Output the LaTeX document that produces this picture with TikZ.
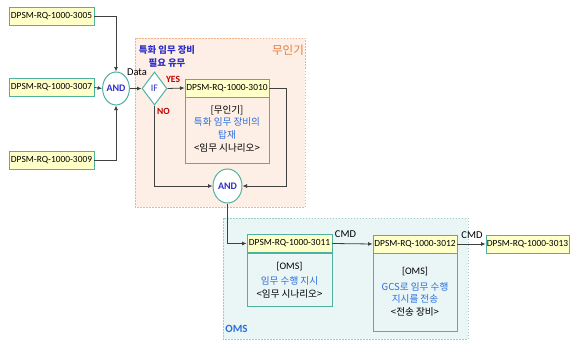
\documentclass[tikz,border=0pt]{standalone}
\usepackage{fontspec}
\setmainfont{Carlito}
\newfontfamily\kr{Noto Sans CJK KR}
\usetikzlibrary{shapes.geometric,arrows.meta,positioning}
\definecolor{teal1}{HTML}{4DB3A0}
\definecolor{hdr}{HTML}{FFFFC8}
\definecolor{peach}{HTML}{FDEFE6}
\definecolor{peachb}{HTML}{F2B48A}
\definecolor{cyanbg}{HTML}{EAF5F5}
\definecolor{cyanb}{HTML}{9FCBCB}
\definecolor{lineg}{HTML}{404040}
\definecolor{kblue}{HTML}{3030C8}
\definecolor{lblue}{HTML}{2A6FE0}
\definecolor{nred}{HTML}{C00000}
\definecolor{oran}{HTML}{E07B39}
\tikzset{
  hbox/.style={draw=teal1, line width=0.9pt, fill=hdr, minimum width=85pt, minimum height=18pt, inner sep=0pt, font=\fontsize{9.4}{11}\selectfont, text=black},
  bodybox/.style={draw=teal1, line width=0.9pt},
  gate/.style={ellipse, draw=teal1, line width=1pt, fill=white, inner sep=0pt, text=kblue, font=\bfseries\fontsize{10}{11}\selectfont},
  conn/.style={draw=lineg, line width=0.8pt},
  arr/.style={conn, -{Latex[length=4.5pt,width=4pt]}},
  lbl/.style={font=\fontsize{10.5}{12}\selectfont, inner sep=0pt},
  btxt/.style={font=\fontsize{10}{12}\selectfont, align=center, inner sep=0pt},
  kfont/.style={font=\kr\fontsize{9.6}{12}\selectfont}
}
\begin{document}
\begin{tikzpicture}[x=1pt,y=-1pt]
\useasboundingbox (0,0) rectangle (571,343);
% regions
\fill[peach] (135,38) rectangle (305,207);
\draw[peachb, line width=0.8pt, dash pattern=on 1.5pt off 1.5pt] (135,38) rectangle (305,207);
\fill[cyanbg] (223,218) rectangle (468,339);
\draw[cyanb, line width=0.8pt, dash pattern=on 1.5pt off 1.5pt] (223,218) rectangle (468,339);
\node[lbl, text=oran, font=\kr\fontsize{11.5}{13}\selectfont] (tuav) at (288,50) {무인기};
\node[lbl, text=lblue, font=\bfseries\fontsize{11}{12}\selectfont] (toms) at (236.5,329) {OMS};
\node[lbl, text=kblue, align=center, font=\kr\bfseries\fontsize{9.4}{13}\selectfont] (tq) at (167,56) {특화 임무 장비\\필요 유무};

% left boxes
\node[hbox] (r3005) at (51.5,16) {DPSM-RQ-1000-3005};
\node[hbox] (r3007) at (51.5,87.5) {DPSM-RQ-1000-3007};
\node[hbox] (r3009) at (51.5,160) {DPSM-RQ-1000-3009};
\node[gate, minimum width=24pt, minimum height=33pt] (and1) at (116,88.5) {AND};
\node[diamond, draw=teal1, line width=1pt, fill=white, inner sep=0pt, minimum width=25pt, minimum height=33pt, text=kblue, font=\fontsize{10}{11}\selectfont] (if) at (154.5,88.5) {IF};

% 3010
\draw[bodybox] (185,97) rectangle (269,163);
\node[hbox, minimum width=84pt] (r3010) at (227,88) {DPSM-RQ-1000-3010};
\node[btxt, kfont] (b10a) at (227,110) {[무인기]};
\node[btxt, kfont, text=lblue, font=\kr\fontsize{9.6}{12.5}\selectfont] (b10b) at (227,128.5) {특화 임무 장비의\\탑재};
\node[btxt, kfont] (b10c) at (227,148) {<임무 시나리오>};
\node[gate, minimum width=29pt, minimum height=34pt] (and2) at (227.5,186) {AND};

% 3011
\draw[bodybox] (247,253) rectangle (332,306);
\node[hbox] (r3011) at (289.5,243.5) {DPSM-RQ-1000-3011};
\node[btxt] (b11a) at (289.5,267) {[OMS]};
\node[btxt, kfont, text=lblue] (b11b) at (289.5,280.5) {임무 수행 지시};
\node[btxt, kfont] (b11c) at (289.5,294) {<임무 시나리오>};

% 3012
\draw[bodybox] (373,253) rectangle (457,331);
\node[hbox, minimum width=84pt] (r3012) at (415,244) {DPSM-RQ-1000-3012};
\node[btxt] (b12a) at (415,272) {[OMS]};
\node[btxt, text=lblue, font=\kr\fontsize{9.6}{12}\selectfont] (b12b) at (415,292.5) {GCS로 임무 수행\\지시를 전송};
\node[btxt, kfont] (b12c) at (415,312) {<전송 장비>};

\node[hbox, minimum width=83pt] (r3013) at (527.5,244) {DPSM-RQ-1000-3013};

% connectors
\coordinate (c1) at (116,16);
\coordinate (c2) at (116,160);
\draw[arr] (r3005.east) -- (c1) -- (and1.north);
\draw[arr] (r3009.east) -- (c2) -- (and1.south);
\draw[arr] (r3007.east) -- (and1.west);
\draw[arr] (and1.east) -- (if.west);
\node[lbl] (ldata) at (137,72.5) {Data};
\draw[arr] (if.east) -- (r3010.west);
\node[lbl, text=nred, font=\bfseries\fontsize{9.5}{10}\selectfont] (lyes) at (173,79) {YES};
\coordinate (c3) at (154.5,186);
\draw[arr] (if.south) -- (c3) -- (and2.west);
\node[lbl, text=nred, font=\bfseries\fontsize{9.5}{10}\selectfont] (lno) at (163.5,111) {NO};
\coordinate (c4) at (286,88);
\coordinate (c5) at (286,186);
\draw[arr] (r3010.east) -- (c4) -- (c5) -- (and2.east);
\coordinate (c6) at (227.5,243.5);
\draw[arr] (and2.south) -- (c6) -- (r3011.west);
\draw[arr] (r3011.east) -- (r3012.west);
\node[lbl] (lcmd1) at (345.5,234.5) {CMD};
\draw[arr] (r3012.east) -- (r3013.west);
\node[lbl] (lcmd2) at (472,235) {CMD};
\end{tikzpicture}
\end{document}
